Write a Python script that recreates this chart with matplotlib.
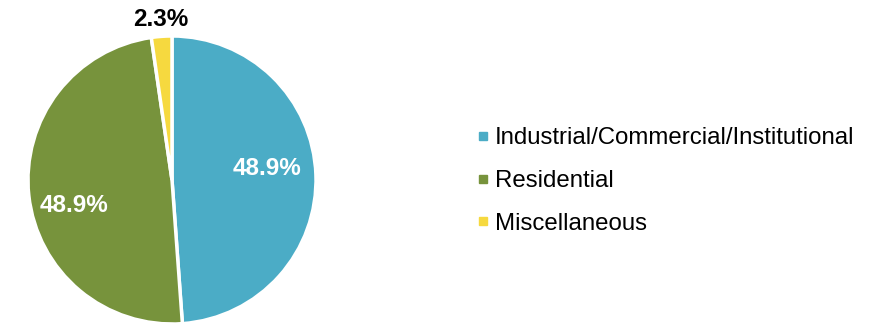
import matplotlib.pyplot as plt
from matplotlib.lines import Line2D

plt.rcParams['font.family'] = ['Liberation Sans', 'DejaVu Sans']

# source shares
categories = ['Industrial/Commercial/Institutional', 'Residential', 'Miscellaneous']
shares = [48.9, 48.9, 2.3]
colors = ['#4BACC6', '#77933C', '#F6D93F']

fig = plt.figure(figsize=(8.73, 3.24), dpi=100)
ax = fig.add_axes([28 / 873, -1 / 324, 288 / 873, 290 / 324])

wedges, _ = ax.pie(shares, colors=colors, startangle=90, counterclock=False,
                   radius=1.0, wedgeprops=dict(edgecolor='white', linewidth=2.5))
ax.set_xlim(-1, 1)
ax.set_ylim(-1, 1)
ax.set_aspect('equal')

# value labels
label_pos = [(0.66, 0.08), (-0.68, -0.18), (-0.08, 1.115)]
label_col = ['white', 'white', 'black']
for v, (x, y), c in zip(shares, label_pos, label_col):
    ax.text(x, y, f'{v:.1f}%', ha='center', va='center', color=c,
            fontsize=17.5, fontweight='bold', clip_on=False)

handles = [Line2D([], [], marker='s', linestyle='none', markersize=6,
                  markerfacecolor=c, markeredgecolor=c) for c in colors]
fig.legend(handles, categories, loc='center left',
           bbox_to_anchor=(467 / 873, (324 - 181) / 324),
           frameon=False, fontsize=17.3, handlelength=0.5, handletextpad=0.25,
           labelspacing=0.86, borderaxespad=0)

fig.savefig('out.png', dpi=100)
